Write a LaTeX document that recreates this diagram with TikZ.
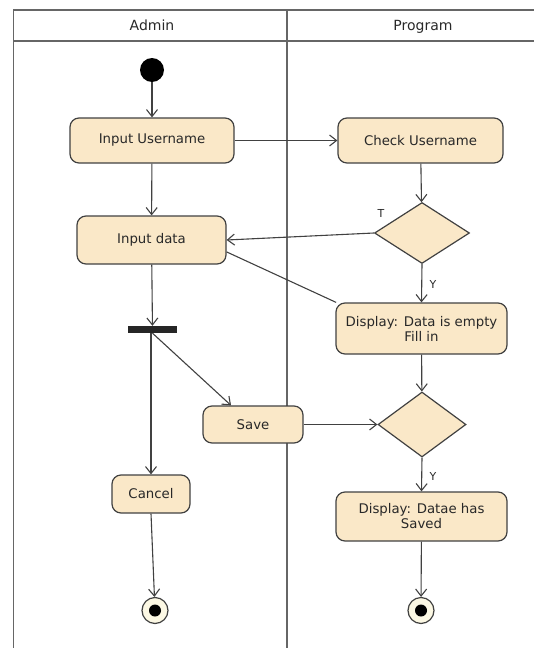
\documentclass[tikz,border=0pt]{standalone}
\usepackage{fontspec}
\setmainfont{DejaVu Sans}
\usetikzlibrary{arrows.meta,shapes.geometric}
\definecolor{actfill}{RGB}{250,232,200}
\definecolor{edgecol}{RGB}{65,65,65}
\definecolor{txtcol}{RGB}{40,40,40}
\definecolor{endfill}{RGB}{252,248,228}
\tikzset{
  action/.style={draw=edgecol, line width=1.2pt, fill=actfill, rounded corners=9pt,
    minimum width=#1, inner sep=0pt, align=center, font=\fontsize{13.3}{15}\selectfont,
    text=txtcol},
  decision/.style={draw=edgecol, line width=1.2pt, fill=actfill, diamond, inner sep=0pt},
  flow/.style={draw=edgecol, line width=1.1pt, -{Straight Barb[length=7pt,width=11pt]}},
  plainline/.style={draw=edgecol, line width=1.1pt},
  lane/.style={draw=gray!80!black, line width=1.4pt},
  lanetitle/.style={font=\fontsize{14}{16}\selectfont, text=txtcol, anchor=base},
  guard/.style={font=\fontsize{11}{13}\selectfont, text=txtcol},
  startnode/.style={circle, fill=black, minimum size=24pt, inner sep=0pt},
  endnode/.style={circle, draw=edgecol, line width=1.2pt, fill=endfill, minimum size=26pt, inner sep=0pt,
    path picture={\fill[black] (path picture bounding box.center) circle (6pt);}},
  forkbar/.style={fill=black!85, minimum width=49pt, minimum height=7pt, inner sep=0pt}
}
\begin{document}
\begin{tikzpicture}[x=1pt, y=-1pt]
\useasboundingbox (0,0) rectangle (533,648);

% swimlanes
\draw[lane] (13.6,648) -- (13.6,10) -- (540,10);
\draw[lane] (13.6,41) -- (540,41);
\draw[lane] (287,10) -- (287,648);
\node[lanetitle] (admin) at (152,30) {Admin};
\node[lanetitle] (program) at (423,30) {Program};

% Admin lane
\node[startnode] (start) at (152,70) {};
\node[action=164pt, minimum height=45pt] (inuser) at (152,140.5) {Input Username};
\node[action=149pt, minimum height=48pt] (inputdata) at (151.5,240) {Input data};
\node[forkbar] (bar) at (152.5,329.5) {};
\node[action=100pt, minimum height=37pt] (save) at (253,424.5) {Save};
\node[action=78pt, minimum height=38pt] (cancel) at (151,494) {Cancel};
\node[endnode] (end1) at (155,610.5) {};

% Program lane
\node[action=165pt, minimum height=45pt] (checkuser) at (420.5,140.5) {Check Username};
\node[decision, minimum width=95pt, minimum height=61pt, aspect=1.55] (dec1) at (422,233) {};
\node[action=171pt, minimum height=51pt] (emptybox) at (421.5,328.5) {Display: Data is empty\\Fill in};
\node[decision, minimum width=88pt, minimum height=65pt, aspect=1.35] (dec2) at (422,424.5) {};
\node[action=171pt, minimum height=49pt] (savedbox) at (421.5,516.5) {Display: Datae has\\Saved};
\node[endnode] (end2) at (421,610.5) {};

% control flows
\draw[flow] (start) -- (inuser);
\draw[flow] (inuser) -- (checkuser);
\draw[flow] (inuser) -- (inputdata);
\draw[flow] (checkuser) -- (dec1);
\draw[flow] (dec1.west) -- (inputdata.east);
\draw[flow] (dec1.south) -- (emptybox.north);
\draw[plainline] (inputdata.-9) -- (emptybox.163);
\draw[flow] (inputdata) -- (bar);
\draw[flow] (emptybox) -- (dec2);
\draw[flow] (bar.south -| cancel.north) -- (cancel.north);
\draw[flow] (bar.south) -- (save.139);
\draw[flow] (save) -- (dec2);
\draw[flow] (dec2.south) -- (savedbox.north);
\draw[flow] (cancel.south) -- (end1);
\draw[flow] (savedbox) -- (end2);

% guards
\node[guard] (gT) at (381,213) {T};
\node[guard] (gY1) at (433,284) {Y};
\node[guard] (gY2) at (433,476) {Y};
\end{tikzpicture}
\end{document}
